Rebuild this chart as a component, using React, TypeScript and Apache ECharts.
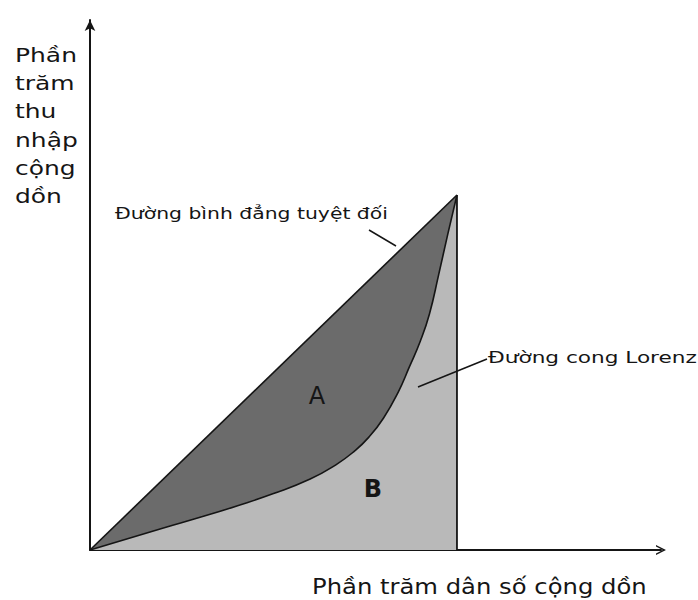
import React, { useEffect, useRef } from "react";
import * as echarts from "echarts";

// Lorenz curve (cumulative % population -> cumulative % income)
const lorenzX = [0, 10, 20, 30, 40, 50, 60, 67, 72, 76, 80, 84, 87, 90, 92.5, 95, 97.5, 100];
const lorenzY = [0, 3.1, 6.2, 9.2, 12.4, 15.9, 20.0, 24.0, 27.8, 31.8, 37.2, 44.5, 51.5, 58.8, 66.5, 77.5, 89.0, 100];
// Line of perfect equality
const equalityX = [0, 100];
const equalityY = [0, 100];
// Vertical boundary at 100% population
const boundaryX = [100, 100];
const boundaryY = [0, 100];

const yLabelLines = ["Phần", "trăm", "thu", "nhập", "cộng", "dồn"];
const xAxisTitle = "Phần trăm dân số cộng dồn";
const equalityLabel = "Đường bình đẳng tuyệt đối";
const lorenzLabel = "Đường cong Lorenz";
const areaLabels = ["A", "B"];

const FONT = '"DejaVu Sans", "Noto Sans", sans-serif';
const INK = "#151515";

function measure(text: string, size: number): number {
  const ctx = document.createElement("canvas").getContext("2d");
  if (!ctx) return text.length * size * 0.6;
  ctx.font = `${size}px ${FONT}`;
  return ctx.measureText(text).width;
}

function fitText(text: string, size: number, x: number, y: number, width: number) {
  const w = measure(text, size);
  return {
    type: "text",
    x,
    y,
    scaleX: width / w,
    style: {
      text,
      font: `${size}px ${FONT}`,
      fill: INK,
      align: "left",
      verticalAlign: "middle",
    },
    z: 10,
  };
}

export default function App() {
  const ref = useRef<HTMLDivElement>(null);

  useEffect(() => {
    if (!ref.current) return;
    const chart = echarts.init(ref.current, null, { renderer: "svg" });

    const pWidth = measure("Phần", 20);
    const ySx = 62 / pWidth;
    const yLabelEls = yLabelLines.map((t, i) => ({
      type: "text",
      x: 15,
      y: 55 + i * 28.2,
      scaleX: ySx,
      style: { text: t, font: `20px ${FONT}`, fill: INK, align: "left", verticalAlign: "middle" },
      z: 10,
    }));

    const option: any = {
      animation: false,
      backgroundColor: "#ffffff",
      grid: { left: 90, right: 37, top: 20, bottom: 50, containLabel: false },
      xAxis: {
        type: "value",
        min: 0,
        max: 155.6,
        axisLine: {
          show: true,
          symbol: ["none", "path://M0,10 L5,0 L10,10 L8.4,10 L5,3.2 L1.6,10 Z"],
          symbolSize: [11, 10],
          lineStyle: { color: INK, width: 2 },
        },
        axisTick: { show: false },
        axisLabel: { show: false },
        splitLine: { show: false },
      },
      yAxis: {
        type: "value",
        min: 0,
        max: 149.3,
        axisLine: {
          show: true,
          symbol: ["none", "arrow"],
          symbolSize: [8, 11],
          lineStyle: { color: INK, width: 2 },
        },
        axisTick: { show: false },
        axisLabel: { show: false },
        splitLine: { show: false },
      },
      series: [
        {
          type: "line",
          data: equalityX.map((x, i) => [x, equalityY[i]]),
          symbol: "none",
          lineStyle: { color: INK, width: 1.6 },
          areaStyle: { color: "#6b6b6b", opacity: 1 },
          z: 1,
        },
        {
          type: "line",
          data: lorenzX.map((x, i) => [x, lorenzY[i]]),
          smooth: true,
          symbol: "none",
          lineStyle: { color: INK, width: 1.6 },
          areaStyle: { color: "#b9b9b9", opacity: 1 },
          z: 2,
        },
        {
          type: "line",
          data: boundaryX.map((x, i) => [x, boundaryY[i]]),
          symbol: "none",
          lineStyle: { color: INK, width: 1.8 },
          z: 3,
        },
      ],
      graphic: [
        ...yLabelEls,
        fitText(equalityLabel, 15, 115, 214, 273),
        fitText(lorenzLabel, 16, 488, 357, 209),
        fitText(xAxisTitle, 22, 312, 586, 335),
        {
          type: "line",
          shape: { x1: 369, y1: 230, x2: 396, y2: 246 },
          style: { stroke: INK, lineWidth: 1.5 },
          z: 10,
        },
        {
          type: "line",
          shape: { x1: 487, y1: 359, x2: 418, y2: 387 },
          style: { stroke: INK, lineWidth: 1.5 },
          z: 10,
        },
        {
          type: "text",
          x: 317,
          y: 396,
          style: { text: areaLabels[0], font: `24px ${FONT}`, fill: INK, align: "center", verticalAlign: "middle" },
          z: 10,
        },
        {
          type: "text",
          x: 373,
          y: 489,
          style: { text: areaLabels[1], font: `bold 24px ${FONT}`, fill: INK, align: "center", verticalAlign: "middle" },
          z: 10,
        },
      ],
    };

    chart.setOption(option);
    return () => chart.dispose();
  }, []);

  return (
    <div
      ref={ref}
      style={{ position: "fixed", left: 0, top: 0, width: 698, height: 600 }}
    />
  );
}
